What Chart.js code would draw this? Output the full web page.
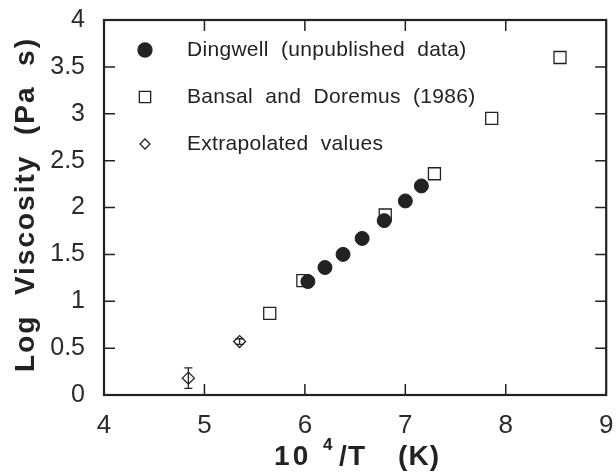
<!DOCTYPE html>
<html>
<head>
<meta charset="utf-8">
<script src="https://cdn.jsdelivr.net/npm/chart.js@4"></script>
<style>
  html, body { margin: 0; padding: 0; background: #fff; }
  #wrap { width: 616px; height: 475px; }
</style>
</head>
<body>
<div id="wrap"><canvas id="viscosityChart" width="616" height="475"></canvas></div>
<script>
//================== data ==================
// Dingwell (unpublished data) - filled circles
const dingwellX = [6.03, 6.20, 6.38, 6.57, 6.79, 7.00, 7.16];
const dingwellY = [1.21, 1.36, 1.50, 1.67, 1.86, 2.07, 2.23];
// Bansal and Doremus (1986) - open squares
const bansalX = [5.65, 5.98, 6.80, 7.29, 7.86, 8.54];
const bansalY = [0.87, 1.22, 1.92, 2.36, 2.95, 3.60];
// Extrapolated values - open diamonds with error bars
const extrapX = [4.84, 5.35];
const extrapY = [0.18, 0.57];
const extrapErr = [0.11, 0.03];

const legendLabels = ["Dingwell  (unpublished  data)", "Bansal  and  Doremus  (1986)", "Extrapolated  values"];
const xTicks = [4, 5, 6, 7, 8, 9];
const yTicks = [0, 0.5, 1, 1.5, 2, 2.5, 3, 3.5, 4];
const yTitle = "Log  Viscosity  (Pa  s)";

const ink = "#222";
const fontFamily = "'Liberation Sans', Arial, sans-serif";
const toPoints = (xs, ys) => xs.map((x, i) => ({ x: x, y: ys[i] }));

//================== plugins ==================
// box frame + inward ticks on all four sides
const frameTicks = {
  id: "frameTicks",
  afterDraw(chart) {
    const ctx = chart.ctx;
    const a = chart.chartArea;
    const xs = chart.scales.x;
    const ys = chart.scales.y;
    const len = 11;
    ctx.save();
    ctx.strokeStyle = ink;
    ctx.lineWidth = 1.5;
    xTicks.slice(1, -1).forEach((v) => {
      const px = xs.getPixelForValue(v);
      ctx.beginPath();
      ctx.moveTo(px, a.bottom); ctx.lineTo(px, a.bottom - len);
      ctx.moveTo(px, a.top); ctx.lineTo(px, a.top + len);
      ctx.stroke();
    });
    yTicks.slice(1, -1).forEach((v) => {
      const py = ys.getPixelForValue(v);
      ctx.beginPath();
      ctx.moveTo(a.left, py); ctx.lineTo(a.left + len, py);
      ctx.moveTo(a.right, py); ctx.lineTo(a.right - len, py);
      ctx.stroke();
    });
    ctx.lineWidth = 2.2;
    ctx.strokeRect(a.left, a.top, a.right - a.left, a.bottom - a.top);
    ctx.restore();
  },
};

// vertical error bars on the extrapolated points
const errorBars = {
  id: "errorBars",
  afterDatasetsDraw(chart) {
    const ctx = chart.ctx;
    const xs = chart.scales.x;
    const ys = chart.scales.y;
    ctx.save();
    ctx.strokeStyle = ink;
    ctx.lineWidth = 1.3;
    extrapX.forEach((x, i) => {
      const px = xs.getPixelForValue(x);
      const top = ys.getPixelForValue(extrapY[i] + extrapErr[i]);
      const bot = ys.getPixelForValue(extrapY[i] - extrapErr[i]);
      ctx.beginPath();
      ctx.moveTo(px, top); ctx.lineTo(px, bot);
      ctx.moveTo(px - 4, top); ctx.lineTo(px + 4, top);
      ctx.moveTo(px - 4, bot); ctx.lineTo(px + 4, bot);
      ctx.stroke();
    });
    ctx.restore();
  },
};

// legend drawn inside the plot, top-left
const insideLegend = {
  id: "insideLegend",
  afterDraw(chart) {
    const ctx = chart.ctx;
    const a = chart.chartArea;
    const styles = [
      { pointStyle: "circle", radius: 7, fill: true },
      { pointStyle: "rect", radius: 8, fill: false },
      { pointStyle: "rectRot", radius: 5, fill: false },
    ];
    ctx.save();
    legendLabels.forEach((label, i) => {
      const y = a.top + 30 + i * 47;
      const s = styles[i];
      ctx.fillStyle = s.fill ? ink : "#fff";
      ctx.strokeStyle = ink;
      ctx.lineWidth = 1.3;
      Chart.helpers.drawPoint(ctx, { pointStyle: s.pointStyle, radius: s.radius, borderWidth: 1.3, rotation: 0 }, a.left + 41, y);
      ctx.fillStyle = "#222";
      ctx.font = "21px " + fontFamily;
      ctx.letterSpacing = "0.3px";
      ctx.textBaseline = "middle";
      ctx.textAlign = "left";
      ctx.fillText(label, a.left + 83, y);
    });
    ctx.restore();
  },
};

// axis titles (bold, tracked, with a raised 4 on the x title)
const axisTitles = {
  id: "axisTitles",
  afterDraw(chart) {
    const ctx = chart.ctx;
    const a = chart.chartArea;
    ctx.save();
    ctx.fillStyle = ink;
    ctx.textBaseline = "alphabetic";
    // y title, rotated
    ctx.font = "bold 28px " + fontFamily;
    ctx.letterSpacing = "2px";
    ctx.translate(34, (a.top + a.bottom) / 2 - 3);
    ctx.rotate(-Math.PI / 2);
    ctx.textAlign = "center";
    ctx.fillText(yTitle, 0, 0);
    ctx.setTransform(1, 0, 0, 1, 0, 0);
    // x title: "10" + superscript "4" + "/T  (K)", offsets from plot centre
    const cx = (a.left + a.right) / 2 + 3;
    const base = 465;
    ctx.textAlign = "left";
    ctx.font = "bold 28px " + fontFamily;
    ctx.letterSpacing = "3px";
    ctx.fillText("10", cx - 84, base);
    ctx.font = "bold 17px " + fontFamily;
    ctx.letterSpacing = "0px";
    ctx.fillText("4", cx - 35, base - 15);
    ctx.font = "bold 28px " + fontFamily;
    ctx.letterSpacing = "1px";
    ctx.fillText("/T", cx - 19, base);
    ctx.fillText("(K)", cx + 40, base);
    ctx.restore();
  },
};

//================== chart config ==================
const data = {
  datasets: [
    {
      label: legendLabels[0],
      data: toPoints(dingwellX, dingwellY),
      pointStyle: "circle",
      pointRadius: 7,
      backgroundColor: ink,
      borderColor: ink,
      borderWidth: 1,
    },
    {
      label: legendLabels[1],
      data: toPoints(bansalX, bansalY),
      pointStyle: "rect",
      pointRadius: 8.5,
      backgroundColor: "#fff",
      borderColor: ink,
      borderWidth: 1.3,
    },
    {
      label: legendLabels[2],
      data: toPoints(extrapX, extrapY),
      pointStyle: "rectRot",
      pointRadius: 6,
      backgroundColor: "rgba(255,255,255,0)",
      borderColor: ink,
      borderWidth: 1.3,
    },
  ],
};

const config = {
  type: "scatter",
  data: data,
  options: {
    responsive: false,
    animation: false,
    layout: { padding: { top: 20, right: 8, left: 0, bottom: 0 } },
    plugins: {
      legend: { display: false },
      tooltip: { enabled: false },
    },
    scales: {
      x: {
        type: "linear",
        min: 4,
        max: 9,
        afterFit: (s) => { s.height = 80; s.paddingLeft = 0; s.paddingRight = 0; },
        afterBuildTicks: (s) => { s.ticks = xTicks.map((v) => ({ value: v })); },
        ticks: {
          padding: 15,
          color: "#2b2b2b",
          maxRotation: 0,
          font: { family: fontFamily, size: 26 },
        },
        grid: { display: false, drawTicks: false },
        border: { display: false },
      },
      y: {
        type: "linear",
        min: 0,
        max: 4,
        afterFit: (s) => { s.width = 104; s.paddingTop = 0; s.paddingBottom = 0; },
        afterBuildTicks: (s) => { s.ticks = yTicks.map((v) => ({ value: v })); },
        ticks: {
          padding: 19,
          color: "#2b2b2b",
          callback: (v) => String(v),
          font: { family: fontFamily, size: 25 },
        },
        grid: { display: false, drawTicks: false },
        border: { display: false },
      },
    },
  },
  plugins: [errorBars, frameTicks, insideLegend, axisTitles],
};

let viscosityChart = new Chart(document.getElementById("viscosityChart"), config);
</script>
</body>
</html>
